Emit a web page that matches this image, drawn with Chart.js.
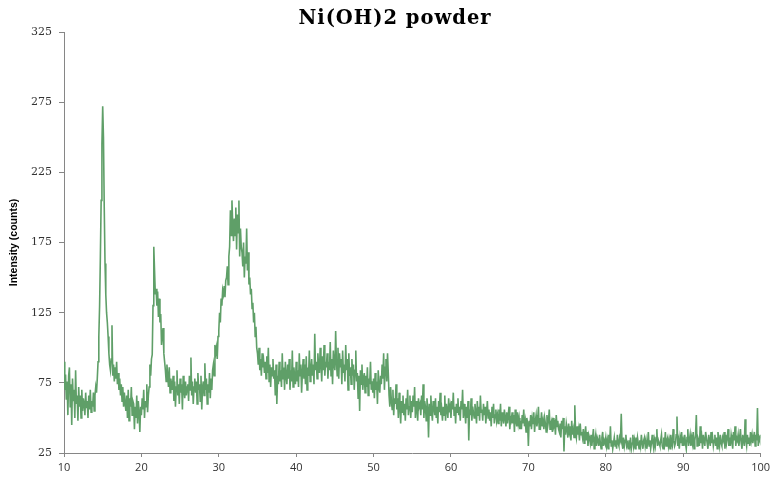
<!DOCTYPE html>
<html>
<head>
<meta charset="utf-8">
<script src="https://cdn.jsdelivr.net/npm/chart.js@4/dist/chart.umd.min.js"></script>
<style>
  html, body { margin: 0; padding: 0; background: #fff; }
  #xrd { display: block; }
</style>
</head>
<body>
<canvas id="xrd" width="774" height="485"></canvas>
<script>
const chartTitle = "Ni(OH)2 powder";
const yAxisTitle = "Intensity (counts)";

// scan grid, degrees 2-theta
const scanStart = 10;
const scanStep = 0.1;
const xTicks = [10, 20, 30, 40, 50, 60, 70, 80, 90, 100];
const yTicks = [25, 75, 125, 175, 225, 275, 325];

// counts, one row per degree (x.0 .. x.9)
const intensity = [
  90, 70, 81, 63, 76, 52, 80, 86, 58, 74,       // 10
  45, 78, 62, 70, 50, 84, 60, 66, 48, 72,       // 11
  58, 66, 50, 70, 55, 64, 60, 52, 68, 57,       // 12
  62, 50, 66, 56, 70, 54, 62, 58, 68, 55,       // 13
  66, 72, 68, 78, 90, 108, 130, 165, 205, 245,  // 14
  272, 250, 200, 160, 138, 125, 118, 108, 96, 88, // 15
  84, 92, 116, 80, 88, 76, 86, 78, 90, 74,      // 16
  82, 70, 78, 66, 74, 62, 72, 58, 68, 60,       // 17
  55, 66, 50, 70, 48, 64, 58, 72, 52, 62,       // 18
  60, 42, 58, 50, 66, 46, 62, 54, 40, 58,       // 19
  52, 64, 56, 70, 50, 62, 58, 74, 54, 66,       // 20
  72, 88, 80, 92, 95, 130, 172, 155, 138, 142,  // 21
  130, 140, 122, 135, 118, 124, 102, 110, 114, 96, // 22
  90, 84, 76, 88, 80, 72, 86, 68, 78, 74,       // 23
  70, 80, 62, 76, 58, 72, 84, 66, 74, 60,       // 24
  78, 68, 74, 56, 80, 70, 64, 76, 66, 72,       // 25
  74, 62, 80, 70, 93, 66, 76, 60, 72, 78,       // 26
  68, 76, 60, 82, 70, 74, 62, 80, 56, 72,       // 27
  76, 66, 89, 70, 78, 60, 74, 68, 82, 64,       // 28
  78, 70, 84, 88, 80, 102, 96, 100, 92, 108,    // 29
  112, 125, 118, 135, 130, 141, 138, 144, 136, 148, // 30
  150, 158, 145, 165, 172, 198, 180, 205, 188, 176, // 31
  192, 180, 200, 170, 195, 182, 205, 165, 185, 172, // 32
  168, 158, 175, 150, 165, 160, 185, 155, 168, 145, // 33
  150, 138, 142, 128, 132, 118, 125, 108, 115, 100, // 34
  96, 88, 100, 84, 92, 80, 96, 86, 90, 82,      // 35
  90, 78, 94, 82, 100, 76, 88, 72, 86, 80,      // 36
  92, 78, 84, 66, 88, 60, 80, 74, 90, 76,       // 37
  84, 72, 96, 78, 86, 70, 90, 80, 74, 88,       // 38
  78, 92, 70, 84, 76, 98, 72, 86, 80, 74,       // 39
  90, 76, 84, 72, 96, 80, 88, 68, 82, 92,       // 40
  78, 88, 74, 94, 70, 86, 80, 98, 76, 84,       // 41
  92, 80, 88, 74, 110, 84, 90, 78, 96, 86,      // 42
  82, 100, 88, 76, 94, 84, 102, 80, 90, 86,     // 43
  96, 78, 90, 84, 104, 80, 92, 74, 98, 88,      // 44
  84, 112, 90, 80, 100, 78, 96, 86, 92, 74,     // 45
  98, 82, 88, 76, 102, 84, 92, 70, 96, 80,      // 46
  86, 74, 92, 80, 88, 70, 84, 98, 76, 82,       // 47
  64, 80, 55, 84, 74, 88, 70, 78, 82, 68,       // 48
  80, 72, 86, 66, 78, 74, 90, 70, 76, 68,       // 49
  78, 64, 82, 70, 76, 60, 84, 72, 68, 80,       // 50
  74, 88, 78, 96, 70, 86, 92, 76, 96, 82,       // 51
  66, 58, 72, 62, 56, 70, 52, 64, 60, 74,       // 52
  56, 64, 50, 68, 58, 46, 62, 54, 66, 52,       // 53
  60, 48, 64, 56, 70, 52, 58, 66, 50, 62,       // 54
  54, 66, 58, 72, 50, 62, 56, 48, 64, 58,       // 55
  60, 52, 66, 56, 74, 50, 62, 58, 48, 64,       // 56
  56, 36, 60, 52, 66, 54, 48, 62, 58, 52,       // 57
  64, 50, 58, 46, 62, 54, 68, 52, 56, 48,       // 58
  58, 52, 66, 48, 60, 56, 50, 64, 54, 58,       // 59
  50, 62, 56, 68, 52, 58, 46, 60, 54, 64,       // 60
  52, 58, 48, 62, 56, 70, 50, 60, 54, 46,       // 61
  58, 50, 62, 34, 56, 52, 64, 48, 58, 54,       // 62
  50, 60, 54, 46, 62, 52, 58, 48, 66, 54,       // 63
  56, 48, 60, 52, 58, 46, 54, 62, 50, 56,       // 64
  48, 54, 44, 58, 50, 60, 46, 52, 56, 48,       // 65
  52, 46, 56, 48, 60, 44, 54, 50, 46, 56,       // 66
  50, 44, 54, 46, 52, 58, 42, 50, 48, 54,       // 67
  46, 52, 40, 56, 48, 44, 54, 46, 50, 42,       // 68
  48, 42, 52, 46, 56, 44, 48, 40, 50, 46,       // 69
  30, 48, 44, 52, 42, 50, 46, 54, 40, 48,       // 70
  52, 44, 48, 58, 42, 50, 46, 54, 44, 48,       // 71
  42, 50, 46, 40, 52, 44, 48, 56, 42, 46,       // 72
  48, 40, 50, 44, 46, 38, 52, 44, 48, 42,       // 73
  40, 46, 36, 48, 42, 50, 26, 44, 38, 46,       // 74
  42, 36, 46, 40, 44, 34, 48, 38, 42, 36,       // 75
  59, 40, 36, 44, 38, 42, 34, 46, 38, 40,       // 76
  36, 42, 32, 38, 44, 34, 40, 30, 38, 36,       // 77
  32, 38, 30, 36, 42, 28, 34, 38, 30, 36,       // 78
  34, 30, 38, 32, 28, 36, 40, 30, 34, 32,       // 79
  36, 30, 34, 28, 38, 32, 44, 30, 34, 28,       // 80
  32, 36, 30, 34, 28, 38, 32, 30, 36, 34,       // 81
  53, 32, 28, 36, 30, 34, 38, 30, 32, 28,       // 82
  34, 30, 36, 28, 32, 38, 30, 34, 28, 36,       // 83
  30, 36, 32, 28, 34, 30, 38, 32, 28, 34,       // 84
  36, 30, 34, 28, 32, 40, 30, 34, 28, 32,       // 85
  38, 32, 28, 34, 30, 36, 42, 30, 34, 32,       // 86
  30, 34, 38, 30, 28, 36, 32, 40, 30, 34,       // 87
  36, 30, 34, 28, 38, 32, 30, 42, 34, 30,       // 88
  32, 38, 51, 30, 34, 28, 36, 32, 40, 30,       // 89
  34, 30, 38, 32, 28, 36, 42, 30, 34, 38,       // 90
  30, 36, 32, 40, 28, 34, 38, 52, 30, 36,       // 91
  34, 30, 44, 32, 36, 28, 38, 34, 30, 40,       // 92
  36, 32, 28, 38, 34, 30, 40, 32, 36, 30,       // 93
  34, 38, 30, 36, 28, 40, 34, 30, 38, 32,       // 94
  30, 36, 34, 40, 28, 38, 32, 36, 42, 30,       // 95
  36, 30, 38, 34, 28, 40, 34, 44, 30, 36,       // 96
  34, 38, 30, 36, 42, 32, 28, 38, 34, 30,       // 97
  49, 34, 30, 38, 32, 36, 30, 40, 34, 38,       // 98
  32, 36, 40, 30, 38, 34, 57, 30, 36, 34,       // 99
  38                                            // 100
];

const points = intensity.map((v, i) => ({ x: +(scanStart + i * scanStep).toFixed(1), y: v }));

const axisGrey = "#868686";

// title is drawn by hand so it can sit a little right of the canvas centre
const titlePlugin = {
  id: "plotTitle",
  afterDraw(chart) {
    const ctx = chart.ctx;
    ctx.save();
    ctx.font = 'bold 19.5px "DejaVu Serif"';
    ctx.letterSpacing = "1px";
    ctx.fillStyle = "#000";
    ctx.textAlign = "center";
    ctx.textBaseline = "middle";
    ctx.fillText(chartTitle, 395, 19);
    ctx.restore();
  }
};

new Chart(document.getElementById("xrd"), {
  type: "line",
  data: {
    datasets: [{
      data: points,
      borderColor: "#5f9f68",
      borderWidth: 1.6,
      pointRadius: 0,
      tension: 0,
      fill: false
    }]
  },
  options: {
    responsive: false,
    animation: false,
    parsing: false,
    layout: { padding: { top: 32, right: 13, bottom: 0, left: 0 } },
    plugins: {
      legend: { display: false },
      tooltip: { enabled: false }
    },
    scales: {
      x: {
        type: "linear",
        min: 10,
        max: 100,
        afterFit: s => { s.height = 32; },
        afterBuildTicks: s => { s.ticks = xTicks.map(v => ({ value: v })); },
        grid: { drawOnChartArea: false, drawTicks: true, tickLength: 4, color: axisGrey },
        border: { display: true, color: axisGrey, width: 1 },
        ticks: {
          color: "#333",
          padding: 4,
          maxRotation: 0,
          font: { family: "Open Sans", size: 11 }
        }
      },
      y: {
        type: "linear",
        min: 25,
        max: 325,
        afterFit: s => { s.width = 64; },
        afterBuildTicks: s => { s.ticks = yTicks.map(v => ({ value: v })); },
        grid: { drawOnChartArea: false, drawTicks: true, tickLength: 5, color: axisGrey },
        border: { display: true, color: axisGrey, width: 1 },
        ticks: {
          color: "#333",
          padding: 7,
          font: { family: "DejaVu Serif", size: 11 }
        },
        title: {
          display: true,
          text: yAxisTitle,
          color: "#000",
          padding: { top: 8, bottom: 0 },
          font: { family: "Liberation Sans", size: 10.5, weight: "bold" }
        }
      }
    }
  },
  plugins: [titlePlugin]
});
</script>
</body>
</html>
